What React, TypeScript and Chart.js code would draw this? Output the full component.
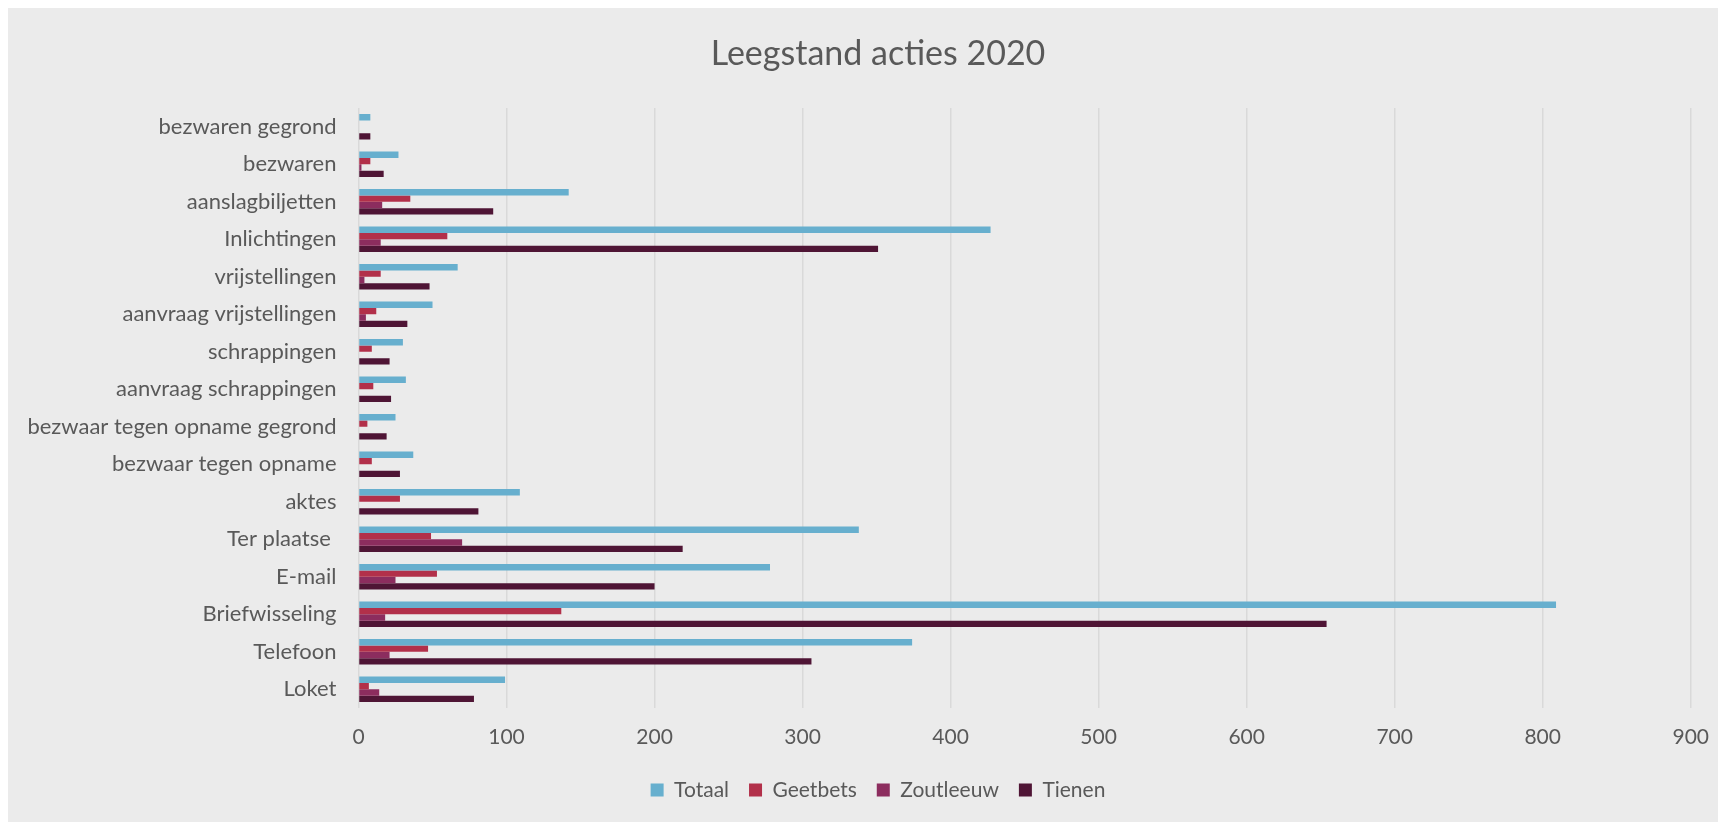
import React, { useEffect, useRef } from "react";
import { Chart, registerables } from "chart.js";

Chart.register(...registerables);

const categories = [
  "bezwaren gegrond",
  "bezwaren",
  "aanslagbiljetten",
  "Inlichtingen",
  "vrijstellingen",
  "aanvraag vrijstellingen",
  "schrappingen",
  "aanvraag schrappingen",
  "bezwaar tegen opname gegrond",
  "bezwaar tegen opname",
  "aktes",
  "Ter plaatse ",
  "E-mail",
  "Briefwisseling",
  "Telefoon",
  "Loket",
];

const totaal = [8, 27, 142, 427, 67, 50, 30, 32, 25, 37, 109, 338, 278, 809, 374, 99];
const geetbets = [0, 8, 35, 60, 15, 12, 9, 10, 6, 9, 28, 49, 53, 137, 47, 7];
const zoutleeuw = [0, 2, 16, 15, 4, 5, 0, 0, 0, 0, 0, 70, 25, 18, 21, 14];
const tienen = [8, 17, 91, 351, 48, 33, 21, 22, 19, 28, 81, 219, 200, 654, 306, 78];

const seriesNames = ["Totaal", "Geetbets", "Zoutleeuw", "Tienen"];
const seriesColors = ["#67AFCE", "#B2304A", "#8C2D5E", "#4F1535"];

const titleText = "Leegstand acties 2020";
const xMin = 0;
const xMax = 900;
const xStep = 100;

const textColor = "#595959";
const fontFamily = "Lato, 'Open Sans', sans-serif";

// lets the long category labels extend left of the axis box instead of being clipped
const unclipYLabels = {
  id: "unclipYLabels",
  afterLayout(chart: any) {
    if (chart.scales && chart.scales.y) chart.scales.y.left = 0;
  },
};

export default function App() {
  const ref = useRef<HTMLCanvasElement | null>(null);

  useEffect(() => {
    document.documentElement.style.overflow = "hidden";
    document.body.style.overflow = "hidden";
    const values = [totaal, geetbets, zoutleeuw, tienen];
    const chart = new Chart(ref.current as HTMLCanvasElement, {
      type: "bar",
      data: {
        labels: categories,
        datasets: seriesNames.map((name, i) => ({
          label: name,
          data: values[i],
          backgroundColor: seriesColors[i],
          borderWidth: 0,
          categoryPercentage: 0.68,
          barPercentage: 1.0,
        })),
      },
      plugins: [unclipYLabels],
      options: {
        indexAxis: "y",
        animation: false,
        responsive: true,
        maintainAspectRatio: false,
        layout: { padding: { left: 28, right: 6, top: 0, bottom: 11.5 } },
        plugins: {
          title: {
            display: true,
            text: titleText,
            color: textColor,
            font: { family: fontFamily, size: 34, weight: "normal" },
            padding: { top: 26.1, bottom: 33.1 },
          },
          legend: {
            position: "bottom",
            labels: {
              boxWidth: 13,
              boxHeight: 13,
              padding: 20,
              color: textColor,
              font: { family: fontFamily, size: 21 },
            },
          },
          tooltip: { enabled: false },
        },
        scales: {
          x: {
            min: xMin,
            max: xMax,
            ticks: {
              stepSize: xStep,
              color: textColor,
              font: { family: fontFamily, size: 21 },
              padding: 17,
            },
            grid: { color: "#D9D9D9", lineWidth: 1.5, drawTicks: false },
            border: { display: false },
            afterFit: (s: any) => {
              s.height = 51.5;
            },
          },
          y: {
            grid: { display: false, drawTicks: false },
            border: { display: false },
            ticks: {
              color: textColor,
              font: { family: fontFamily, size: 22 },
              padding: 22,
            },
            afterFit: (s: any) => {
              s.width = 322.5;
            },
          },
        },
      },
    });
    return () => chart.destroy();
  }, []);

  return (
    <div style={{ width: 1718, height: 814, background: "#EBEBEB", position: "relative" }}>
      <canvas ref={ref} />
    </div>
  );
}
